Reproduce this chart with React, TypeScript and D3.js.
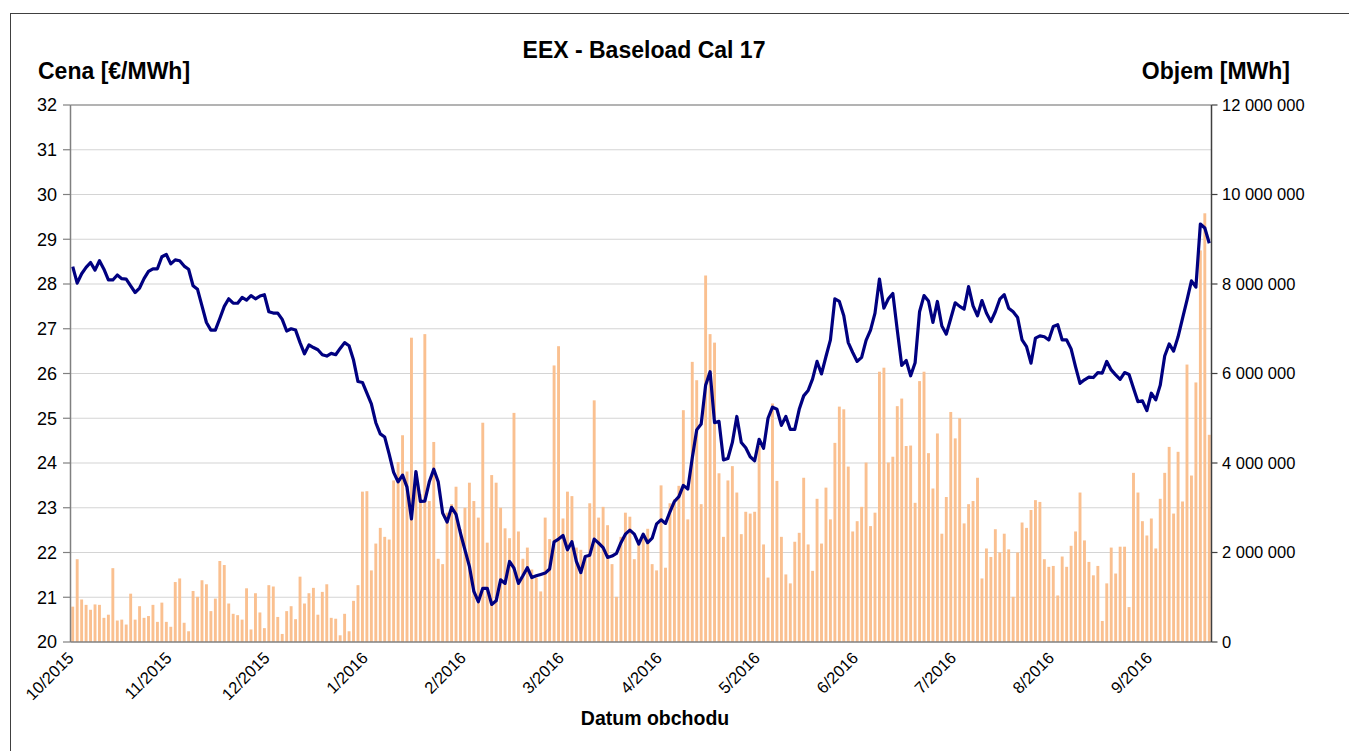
import React from "react";
import * as d3 from "d3";

// Daily settlement price, EEX Baseload Cal-17 [€/MWh], one value per trading day 1.10.2015 - 30.9.2016
const price: number[] = [
  28.39, 28.02, 28.23, 28.37, 28.48, 28.31, 28.52, 28.33, 28.09, 28.09,
  28.20, 28.12, 28.11, 27.96, 27.81, 27.91, 28.12, 28.28, 28.34, 28.34,
  28.61, 28.66, 28.45, 28.54, 28.52, 28.40, 28.33, 27.96, 27.88, 27.51,
  27.14, 26.97, 26.97, 27.23, 27.50, 27.67, 27.57, 27.57, 27.70, 27.64,
  27.74, 27.67, 27.73, 27.76, 27.38, 27.35, 27.35, 27.21, 26.95, 27.00,
  26.97, 26.69, 26.44, 26.64, 26.58, 26.53, 26.42, 26.39, 26.45, 26.42,
  26.56, 26.69, 26.62, 26.30,
  25.82, 25.80, 25.56, 25.32, 24.90, 24.65, 24.58, 24.20, 23.79, 23.58,
  23.73, 23.46, 22.75, 23.81, 23.14, 23.15, 23.58, 23.86, 23.58, 22.88,
  22.68, 23.01, 22.85, 22.43, 22.06, 21.69, 21.13, 20.90, 21.20, 21.20,
  20.84, 20.92, 21.39, 21.31, 21.80, 21.65, 21.31, 21.48, 21.66, 21.44,
  21.48, 21.51, 21.54, 21.63, 22.24, 22.30, 22.38, 22.06, 22.24, 21.80,
  21.55, 21.91, 21.94, 22.30, 22.21, 22.11, 21.89, 21.92, 21.98, 22.22,
  22.41, 22.50, 22.41, 22.19,
  22.41, 22.22, 22.32, 22.64, 22.73, 22.65, 22.91, 23.14, 23.25, 23.50,
  23.42, 24.11, 24.74, 24.87, 25.74, 26.04, 24.90, 24.93, 24.07, 24.10,
  24.46, 25.04, 24.46, 24.34, 24.14, 24.05, 24.53, 24.33, 25.00, 25.25,
  25.20, 24.84, 25.04, 24.75, 24.75, 25.20, 25.50, 25.62, 25.88, 26.27,
  25.99, 26.38, 26.75, 27.67, 27.61, 27.29, 26.69, 26.47, 26.27, 26.36,
  26.74, 26.97, 27.35, 28.11, 27.46, 27.67, 27.79, 26.97, 26.18, 26.29,
  25.95, 26.24, 27.38, 27.74,
  27.62, 27.14, 27.61, 27.06, 26.88, 27.23, 27.58, 27.50, 27.44, 27.94,
  27.51, 27.29, 27.63, 27.35, 27.16, 27.38, 27.66, 27.76, 27.46, 27.38,
  27.25, 26.75, 26.60, 26.23, 26.79, 26.84, 26.82, 26.75, 27.05, 27.09,
  26.75, 26.75, 26.55, 26.15, 25.78, 25.86, 25.92, 25.91, 26.02, 26.01,
  26.27, 26.08, 25.97, 25.87, 26.02, 25.98, 25.67, 25.37, 25.39, 25.17,
  25.56, 25.41, 25.74, 26.39, 26.66, 26.50, 26.82, 27.23, 27.64, 28.07,
  27.93, 29.34, 29.25, 28.91,
];

// Daily traded volume, in millions of MWh
const volumeMillions: number[] = [
  0.79, 1.85, 0.95, 0.83, 0.72, 0.84, 0.83, 0.54, 0.61, 1.65,
  0.48, 0.50, 0.39, 1.08, 0.50, 0.80, 0.54, 0.58, 0.83, 0.45,
  0.88, 0.45, 0.34, 1.34, 1.42, 0.43, 0.24, 1.14, 1.01, 1.38,
  1.29, 0.69, 0.97, 1.81, 1.72, 0.86, 0.63, 0.60, 0.50, 1.20,
  0.28, 1.09, 0.66, 0.31, 1.27, 1.24, 0.56, 0.18, 0.69, 0.80,
  0.51, 1.46, 0.86, 1.09, 1.21, 0.61, 1.12, 1.29, 0.54, 0.52,
  0.15, 0.63, 0.24, 0.92,
  1.27, 3.36, 3.37, 1.60, 2.20, 2.55, 2.35, 2.29, 3.61, 4.02,
  4.62, 3.81, 6.80, 3.80, 3.30, 6.88, 3.15, 4.47, 1.86, 1.74,
  2.89, 3.08, 3.47, 2.52, 3.00, 3.56, 3.15, 2.78, 4.90, 2.22,
  3.73, 3.56, 3.00, 2.54, 2.32, 5.12, 2.47, 1.86, 2.11, 1.62,
  1.44, 1.13, 2.78, 2.30, 6.18, 6.61, 2.76, 3.36, 3.26, 2.11,
  2.06, 1.94, 3.10, 5.40, 2.78, 3.02, 2.61, 1.74, 1.01, 2.35,
  2.89, 2.80, 1.85, 2.18,
  2.41, 2.53, 1.74, 1.60, 3.50, 1.66, 3.10, 3.19, 3.49, 5.18,
  2.74, 6.26, 5.85, 3.08, 8.19, 6.88, 6.69, 3.77, 2.35, 3.61,
  3.93, 3.34, 2.41, 2.91, 2.87, 2.91, 4.38, 2.18, 1.44, 5.33,
  3.60, 2.35, 1.51, 1.31, 2.24, 2.44, 3.67, 2.18, 1.59, 3.20,
  2.20, 3.45, 2.74, 4.45, 5.26, 5.20, 3.92, 2.47, 2.70, 3.02,
  4.01, 2.59, 2.89, 6.04, 6.13, 4.01, 4.14, 5.27, 5.44, 4.38,
  4.39, 3.11, 5.83, 6.04,
  4.22, 3.43, 4.66, 2.42, 3.24, 5.14, 4.55, 5.00, 2.65, 3.08,
  3.15, 3.67, 1.42, 2.09, 1.90, 2.52, 2.00, 2.42, 2.07, 1.01,
  2.00, 2.67, 2.55, 2.95, 3.17, 3.13, 1.85, 1.68, 1.70, 1.04,
  1.91, 1.68, 2.15, 2.47, 3.34, 2.27, 1.79, 1.49, 1.70, 0.47,
  1.31, 2.11, 1.53, 2.13, 2.13, 0.78, 3.78, 3.34, 2.70, 2.38,
  2.76, 2.09, 3.20, 3.78, 4.36, 2.87, 4.25, 3.14, 6.20, 3.72,
  5.80, 8.75, 9.58, 4.63,
];

const monthLabels: string[] = [
  "10/2015", "11/2015", "12/2015", "1/2016", "2/2016", "3/2016",
  "4/2016", "5/2016", "6/2016", "7/2016", "8/2016", "9/2016",
];
const labelInterval = 22;

const priceTicks: number[] = [20, 21, 22, 23, 24, 25, 26, 27, 28, 29, 30, 31, 32];
const volumeTicksMillions: number[] = [0, 2, 4, 6, 8, 10, 12];

const W = 1349;
const H = 751;
const L = 70.5;
const R = 1211.5;
const T = 105;
const B = 642;
const FONT = "'Liberation Sans', Arial, Helvetica, sans-serif";

export default function App() {
  const n = price.length;
  const pad = 0.35;
  const x = d3
    .scaleBand<number>()
    .domain(d3.range(n))
    .range([L, R])
    .paddingInner(pad)
    .paddingOuter(pad / 2);
  const cx = (i: number) => (x(i) as number) + x.bandwidth() / 2;
  const yL = d3.scaleLinear().domain([20, 32]).range([B, T]);
  const yR = d3.scaleLinear().domain([0, 12]).range([B, T]);

  const line = d3
    .line<number>()
    .x((_, i) => cx(i))
    .y((d) => yL(d));

  const fmt = (m: number) => d3.format(",")(m * 1e6).replace(/,/g, " ");

  return (
    <svg
      width={W}
      height={H}
      style={{ position: "absolute", left: 0, top: 0, display: "block", background: "#fff" }}
      fontFamily={FONT}
    >
      <rect x={10.5} y={13.5} width={1400} height={800} fill="#fff" stroke="#404040" strokeWidth={1} />

      {/* gridlines */}
      {priceTicks.slice(1, -1).map((v) => (
        <line key={"g" + v} x1={L} x2={R} y1={yL(v)} y2={yL(v)} stroke="#d4d4d4" strokeWidth={1.2} />
      ))}
      <line x1={L} x2={R} y1={T} y2={T} stroke="#9a9a9a" strokeWidth={1.5} />

      {/* bars */}
      {volumeMillions.map((v, i) => (
        <rect
          key={"b" + i}
          x={x(i)}
          y={yR(v)}
          width={x.bandwidth()}
          height={B - yR(v)}
          fill="#FAC090"
        />
      ))}

      {/* price line */}
      <path d={line(price) || ""} fill="none" stroke="#000080" strokeWidth={3.2} strokeLinejoin="round" />

      {/* axes */}
      <line x1={L} x2={R} y1={B} y2={B} stroke="#808080" strokeWidth={1.5} />
      <line x1={L} x2={L} y1={T} y2={B} stroke="#808080" strokeWidth={1.5} />
      <line x1={R} x2={R} y1={T} y2={B} stroke="#404040" strokeWidth={1.5} />

      {priceTicks.map((v) => (
        <g key={"lt" + v}>
          <line x1={63} x2={L} y1={yL(v)} y2={yL(v)} stroke="#808080" strokeWidth={1.2} />
          <text x={57} y={yL(v)} dy="0.35em" textAnchor="end" fontSize={18} fill="#000">
            {v}
          </text>
        </g>
      ))}
      {volumeTicksMillions.map((v) => (
        <g key={"rt" + v}>
          <line x1={R} x2={R + 6} y1={yR(v)} y2={yR(v)} stroke="#404040" strokeWidth={1.2} />
          <text x={1222} y={yR(v)} dy="0.35em" textAnchor="start" fontSize={16.5} fill="#000">
            {fmt(v)}
          </text>
        </g>
      ))}

      {monthLabels.map((lab, k) => {
        const px = cx(k * labelInterval) + 2;
        const py = 659;
        return (
          <text
            key={"xl" + k}
            transform={`translate(${px},${py}) rotate(-45)`}
            textAnchor="end"
            fontSize={16.5}
            fill="#000"
          >
            {lab}
          </text>
        );
      })}

      <text x={644} y={58} textAnchor="middle" fontSize={23} fontWeight="bold">
        EEX - Baseload Cal 17
      </text>
      <text x={38} y={79} textAnchor="start" fontSize={23} fontWeight="bold">
        Cena [€/MWh]
      </text>
      <text x={1290} y={79} textAnchor="end" fontSize={23} fontWeight="bold">
        Objem [MWh]
      </text>
      <text x={655} y={725} textAnchor="middle" fontSize={19.5} fontWeight="bold">
        Datum obchodu
      </text>
    </svg>
  );
}
